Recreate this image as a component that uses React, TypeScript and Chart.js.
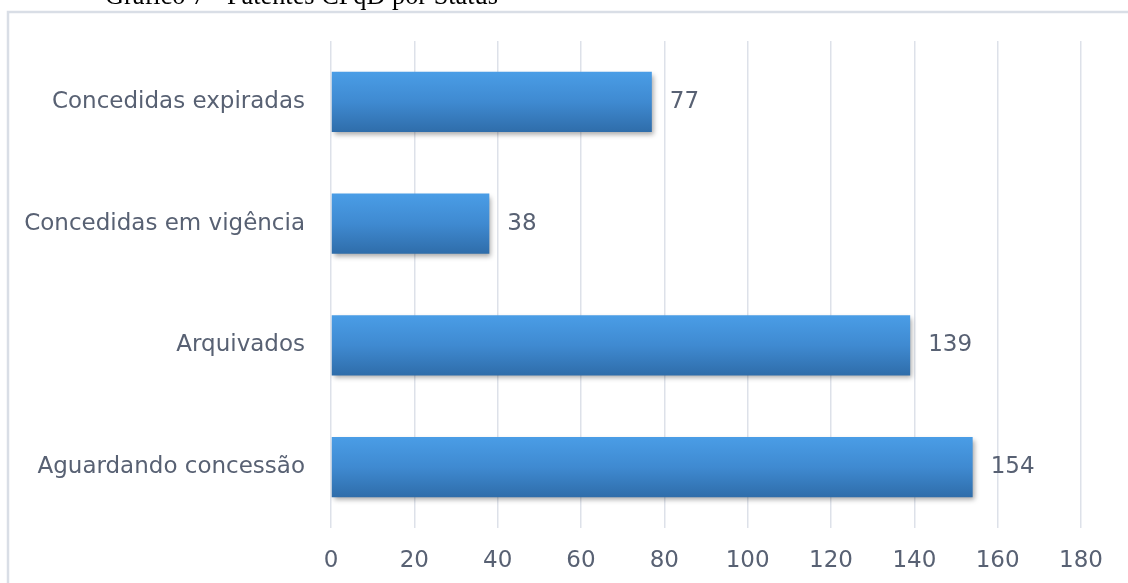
import React, { useEffect, useRef } from "react";
import { Chart, registerables } from "chart.js";

Chart.register(...registerables);

const titleText = "Gráfico 7 - Patentes CPqD por Status";
const categories = [
  "Concedidas expiradas",
  "Concedidas em vigência",
  "Arquivados",
  "Aguardando concessão",
];
const values = [77, 38, 139, 154];
const xMin = 0;
const xMax = 180;
const xStep = 20;

const textColor = "#586173";
const fontFamily = '"DejaVu Sans", "Open Sans", sans-serif';
const barPct = 0.493;

const barGradient = (c: any) => {
  const chart = c.chart;
  const y = chart.scales && chart.scales.y;
  if (!y || c.dataIndex === undefined || !chart.chartArea) return "#3f8ad1";
  const center = y.getPixelForValue(c.dataIndex);
  const band = (chart.chartArea.bottom - chart.chartArea.top) / categories.length;
  const h = band * barPct;
  const g = chart.ctx.createLinearGradient(0, center - h / 2, 0, center + h / 2);
  g.addColorStop(0, "#4a9de6");
  g.addColorStop(0.5, "#3f8ad1");
  g.addColorStop(1, "#2f6daa");
  return g;
};

const decorPlugin = {
  id: "decor",
  beforeDraw(chart: any) {
    const ctx = chart.ctx;
    ctx.save();
    ctx.strokeStyle = "#d9dee6";
    ctx.lineWidth = 2.5;
    ctx.strokeRect(8, 12, 1300, 800);
    ctx.restore();
  },
  beforeDatasetsDraw(chart: any) {
    const ctx = chart.ctx;
    ctx.save();
    ctx.shadowColor = "rgba(0,0,0,0.35)";
    ctx.shadowBlur = 5;
    ctx.shadowOffsetX = 2;
    ctx.shadowOffsetY = 3;
  },
  afterDatasetsDraw(chart: any) {
    const ctx = chart.ctx;
    ctx.restore();
    const meta = chart.getDatasetMeta(0);
    ctx.save();
    ctx.fillStyle = textColor;
    ctx.font = `23px ${fontFamily}`;
    ctx.textBaseline = "middle";
    ctx.textAlign = "left";
    meta.data.forEach((el: any, i: number) => {
      ctx.fillText(String(values[i]), el.x + 18, el.y);
    });
    ctx.restore();
  },
  afterDraw(chart: any) {
    const ctx = chart.ctx;
    ctx.save();
    ctx.fillStyle = "#000";
    ctx.font = '26.3px "Liberation Serif", "Times New Roman", serif';
    ctx.textBaseline = "alphabetic";
    ctx.textAlign = "left";
    ctx.fillText(titleText, 105, 4);
    ctx.restore();
  },
};

export default function App() {
  const ref = useRef<HTMLCanvasElement | null>(null);
  useEffect(() => {
    if (!ref.current) return;
    const chart = new Chart(ref.current, {
      type: "bar",
      data: {
        labels: categories,
        datasets: [
          {
            data: values,
            backgroundColor: barGradient,
            borderWidth: 0,
            categoryPercentage: 1,
            barPercentage: barPct,
          },
        ],
      },
      options: {
        indexAxis: "y",
        animation: false,
        responsive: false,
        maintainAspectRatio: false,
        layout: { padding: { left: 0, right: 47, top: 41, bottom: 0 } },
        plugins: {
          legend: { display: false },
          tooltip: { enabled: false },
          title: { display: false },
        },
        scales: {
          x: {
            type: "linear",
            min: xMin,
            max: xMax,
            afterFit: (s: any) => {
              s.height = 55;
            },
            grid: { color: "#dde1e9", lineWidth: 1.5, drawTicks: false },
            border: { display: false },
            ticks: {
              stepSize: xStep,
              padding: 19,
              color: textColor,
              font: { family: fontFamily, size: 23 },
            },
          },
          y: {
            afterFit: (s: any) => {
              s.width = 331;
            },
            grid: { display: false, drawTicks: false },
            border: { display: false },
            ticks: {
              padding: 26,
              color: textColor,
              font: { family: fontFamily, size: 23 },
            },
          },
        },
      },
      plugins: [decorPlugin],
    });
    return () => chart.destroy();
  }, []);
  return (
    <div
      style={{
        position: "fixed",
        left: 0,
        top: 0,
        width: 1128,
        height: 583,
        overflow: "hidden",
        background: "#fff",
      }}
    >
      <canvas ref={ref} width={1128} height={583} style={{ display: "block" }} />
    </div>
  );
}
